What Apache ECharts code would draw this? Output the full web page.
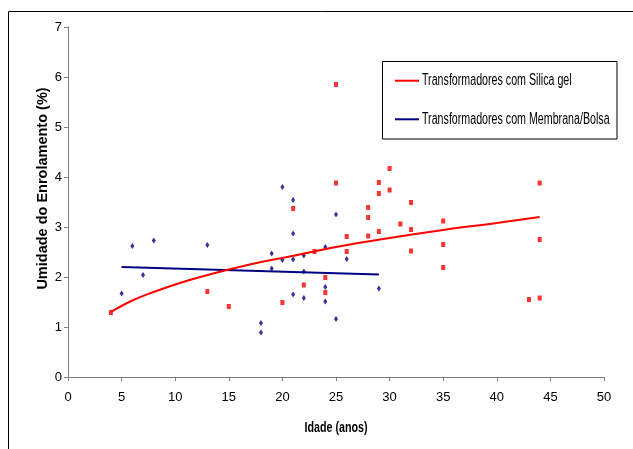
<!DOCTYPE html>
<html>
<head>
<meta charset="utf-8">
<script src="https://cdn.jsdelivr.net/npm/echarts@6/dist/echarts.min.js"></script>
<style>
html,body{margin:0;padding:0;background:#fff;}
#chart{width:633px;height:449px;}
</style>
</head>
<body>
<div id="chart"></div>
<script>
// Series names
var silicaName = 'Transformadores com Silica gel';
var membranaName = 'Transformadores com Membrana/Bolsa';
var xTitle = 'Idade (anos)';
var yTitle = 'Umidade do Enrolamento (%)';

// Scatter data: age (years) and winding moisture (%)
var silicaAge = [4, 13, 15, 20, 21, 22, 23, 24, 24, 25, 25, 26, 26, 28, 28, 28, 29, 29, 29, 30, 30, 31, 32, 32, 32, 35, 35, 35, 43, 44, 44, 44];
var silicaMoisture = [1.29, 1.71, 1.41, 1.49, 3.37, 1.84, 2.51, 1.99, 1.69, 5.85, 3.88, 2.81, 2.51, 3.39, 3.19, 2.82, 3.89, 3.67, 2.91, 4.17, 3.74, 3.06, 3.49, 2.95, 2.52, 3.12, 2.65, 2.19, 1.55, 3.88, 2.75, 1.58];

var membranaAge = [5, 6, 7, 8, 13, 18, 18, 19, 19, 20, 20, 21, 21, 21, 21, 22, 22, 22, 24, 24, 24, 25, 25, 26, 29];
var membranaMoisture = [1.67, 2.62, 2.04, 2.73, 2.64, 1.08, 0.89, 2.47, 2.17, 3.80, 2.34, 3.54, 2.87, 2.35, 1.65, 2.43, 2.11, 1.58, 2.60, 1.80, 1.51, 3.25, 1.16, 2.36, 1.77];

// Trend lines
var silicaTrendAge = [4, 6, 8, 10, 12, 15, 18, 20, 25, 30, 35, 40, 44];
var silicaTrendValue = [1.30, 1.53, 1.70, 1.85, 1.98, 2.15, 2.30, 2.38, 2.60, 2.78, 2.94, 3.08, 3.20];
var membranaTrendAge = [5, 29];
var membranaTrendValue = [2.20, 2.05];

// Axis ranges / ticks
var xMin = 0, xMax = 50, xStep = 5;
var yMin = 0, yMax = 7, yStep = 1;

function zip(a, b) { return a.map(function (v, i) { return [v, b[i]]; }); }

var chart = echarts.init(document.getElementById('chart'), null, {renderer: 'canvas'});
var axisColor = '#808080';
var baseFont = '"Liberation Sans", Arial, sans-serif';

function legendRow(y, color, label) {
  return [
    {
      type: 'line',
      shape: {x1: 395, y1: y, x2: 419, y2: y},
      style: {stroke: color, lineWidth: 2},
      silent: true, z: 10
    },
    {
      type: 'text',
      x: 422, y: y, scaleX: 0.667, scaleY: 1,
      style: {text: label, fill: '#000', font: '16px ' + baseFont, textAlign: 'left', textVerticalAlign: 'middle'},
      silent: true, z: 10
    }
  ];
}

var option = {
  backgroundColor: '#ffffff',
  animation: false,
  graphic: [
    {
      type: 'rect',
      shape: {x: 8.5, y: 11.5, width: 700, height: 500},
      style: {fill: 'none', stroke: '#000', lineWidth: 1},
      silent: true, z: -1
    },
    {
      type: 'rect',
      shape: {x: 382.5, y: 61.5, width: 234.5, height: 77.5},
      style: {fill: '#fff', stroke: '#000', lineWidth: 1},
      silent: true, z: 9
    }
  ].concat(legendRow(80.7, '#ff0000', silicaName))
   .concat(legendRow(119.3, '#000080', membranaName))
   .concat([{
      type: 'text',
      x: 336, y: 428, scaleX: 0.713, scaleY: 1,
      style: {text: xTitle, fill: '#000', font: 'bold 15px ' + baseFont, textAlign: 'center', textVerticalAlign: 'middle'},
      silent: true, z: 10
   }]),
  grid: {left: 68, right: 29, top: 27, bottom: 72, outerBoundsMode: 'none'},
  xAxis: {
    type: 'value',
    min: xMin, max: xMax, interval: xStep,
    axisLine: {show: true, onZero: false, lineStyle: {color: axisColor, width: 1}},
    axisTick: {show: true, length: 4, lineStyle: {color: axisColor}},
    axisLabel: {margin: 14, fontFamily: baseFont, fontSize: 13, color: '#000'},
    splitLine: {show: false}
  },
  yAxis: {
    type: 'value',
    min: yMin, max: yMax, interval: yStep,
    name: yTitle,
    nameLocation: 'middle',
    nameGap: 18,
    nameMoveOverlap: false,
    nameTextStyle: {
      fontFamily: baseFont,
      fontWeight: 'bold', fontSize: 14.5, color: '#000',
      padding: [0, 0, 0, 27]
    },
    axisLine: {show: true, onZero: false, lineStyle: {color: axisColor, width: 1}},
    axisTick: {show: true, length: 4, lineStyle: {color: axisColor}},
    axisLabel: {margin: 6, fontFamily: baseFont, fontSize: 13, color: '#000'},
    splitLine: {show: false}
  },
  series: [
    {
      name: membranaName + ' (dados)',
      type: 'scatter',
      data: zip(membranaAge, membranaMoisture),
      symbol: 'diamond',
      symbolSize: [4, 6],
      itemStyle: {color: '#000080'},
      z: 3
    },
    {
      name: silicaName + ' (dados)',
      type: 'scatter',
      data: zip(silicaAge, silicaMoisture),
      symbol: 'rect',
      symbolSize: [4, 5],
      itemStyle: {color: '#ff0000'},
      z: 3
    },
    {
      name: membranaName,
      type: 'line',
      data: zip(membranaTrendAge, membranaTrendValue),
      showSymbol: false,
      symbol: 'none',
      lineStyle: {color: '#000080', width: 2},
      itemStyle: {color: '#000080'},
      z: 4
    },
    {
      name: silicaName,
      type: 'line',
      data: zip(silicaTrendAge, silicaTrendValue),
      smooth: 0.4,
      showSymbol: false,
      symbol: 'none',
      lineStyle: {color: '#ff0000', width: 2},
      itemStyle: {color: '#ff0000'},
      z: 5
    }
  ]
};
chart.setOption(option);
</script>
</body>
</html>
